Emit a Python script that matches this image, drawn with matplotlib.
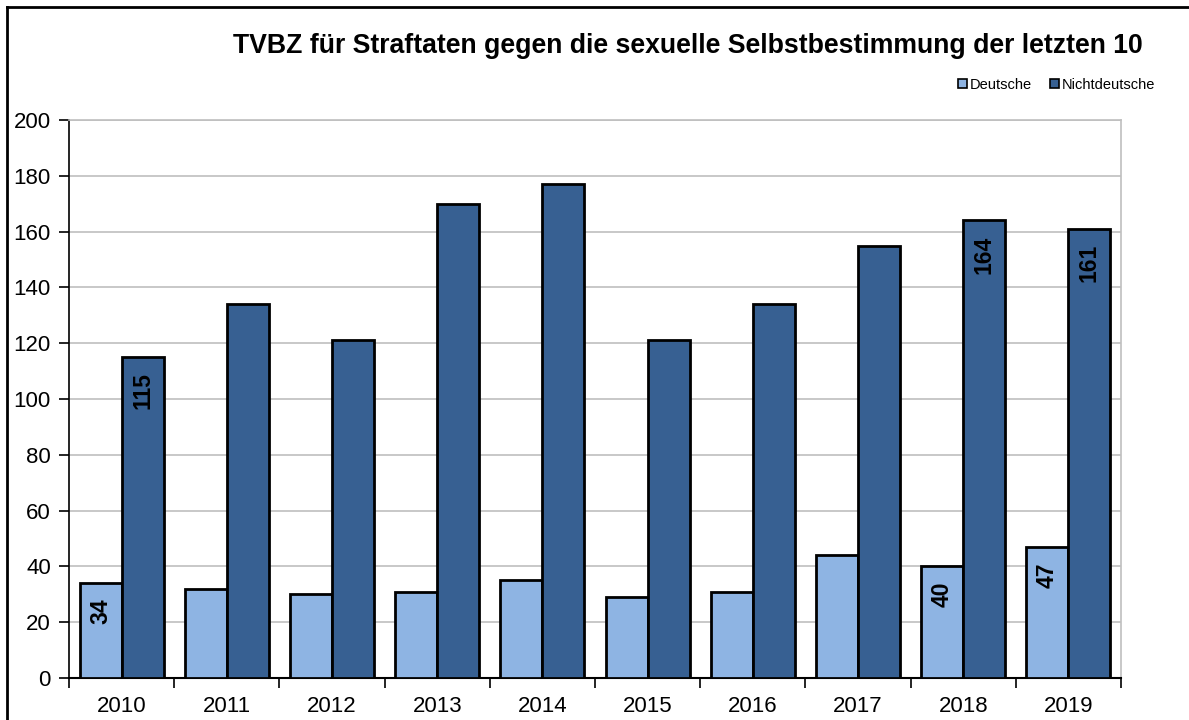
import matplotlib
matplotlib.use("Agg")
import matplotlib.pyplot as plt
import numpy as np
from matplotlib.lines import Line2D
from matplotlib.patches import Patch

years = ["2010", "2011", "2012", "2013", "2014", "2015", "2016", "2017", "2018", "2019"]
deutsche = [34, 32, 30, 31, 35, 29, 31, 44, 40, 47]
nichtdeutsche = [115, 134, 121, 170, 177, 121, 134, 155, 164, 161]
labels_d = {0: "34", 8: "40", 9: "47"}
labels_n = {0: "115", 8: "164", 9: "161"}
yticks = [0, 20, 40, 60, 80, 100, 120, 140, 160, 180, 200]

plt.rcParams['font.family'] = ['Liberation Sans', 'DejaVu Sans']

fig = plt.figure(figsize=(11.89, 7.2), dpi=100)
ax = fig.add_axes([69/1189, 1-678/720, (1121-69)/1189, (678-120)/720])

x = np.arange(len(years))
w = 0.40
c_d = "#8EB4E3"
c_n = "#376092"
ax.bar(x - w/2, deutsche, w, color=c_d, edgecolor="black", linewidth=2, zorder=3)
ax.bar(x + w/2, nichtdeutsche, w, color=c_n, edgecolor="black", linewidth=2, zorder=3)

for i, t in labels_d.items():
    ax.annotate(t, (x[i] - w/2, deutsche[i]), xytext=(0, -11), textcoords="offset points",
                rotation=90, ha="center", va="top", fontsize=16.5, fontweight="bold", zorder=5)
for i, t in labels_n.items():
    ax.annotate(t, (x[i] + w/2, nichtdeutsche[i]), xytext=(0, -11), textcoords="offset points",
                rotation=90, ha="center", va="top", fontsize=16.5, fontweight="bold", zorder=5)

ax.set_xlim(-0.5, len(years) - 0.5)
ax.set_ylim(0, 200)
ax.set_yticks(yticks)
ax.set_yticklabels([str(v) for v in yticks], fontsize=16)
ax.yaxis.grid(True, color="#BFBFBF", linewidth=1.2, zorder=0)
ax.set_axisbelow(True)

ax.set_xticks(x)
ax.set_xticklabels(years, fontsize=16)
ax.tick_params(axis="x", length=0, pad=13)
ax.set_xticks(np.arange(-0.5, len(years) + 0.5, 1), minor=True)
ax.tick_params(axis="x", which="minor", length=7, width=1.2, direction="out", color="black")
ax.tick_params(axis="y", length=7, width=1.2, direction="out", pad=6)

ax.spines["left"].set_color("black")
ax.spines["left"].set_linewidth(1.2)
ax.spines["bottom"].set_color("black")
ax.spines["bottom"].set_linewidth(1.5)
ax.spines["top"].set_color("#BFBFBF")
ax.spines["right"].set_color("#BFBFBF")
ax.spines["right"].set_linewidth(1.2)
ax.spines["top"].set_linewidth(1.2)

fig.text(688/1189, 1-46/720, "TVBZ für Straftaten gegen die sexuelle Selbstbestimmung der letzten 10",
         ha="center", va="center", fontsize=19.2, fontweight="bold")

handles = [Patch(facecolor=c_d, edgecolor="black", linewidth=1.2),
           Patch(facecolor=c_n, edgecolor="black", linewidth=1.2)]
fig.legend(handles, ["Deutsche", "Nichtdeutsche"], loc="center right",
           bbox_to_anchor=(1165/1189, 1-85/720), ncol=2, frameon=False, fontsize=10.5,
           handlelength=0.6, handleheight=0.6, handletextpad=0.2, columnspacing=1.2,
           borderpad=0.2)

# figure frame (left and top)
fig.add_artist(Line2D([7/1189, 7/1189], [0, 1-7/720], transform=fig.transFigure, color="black", linewidth=2))
fig.add_artist(Line2D([7/1189, 1], [1-7/720, 1-7/720], transform=fig.transFigure, color="black", linewidth=2))

fig.savefig("out.png", dpi=100)
